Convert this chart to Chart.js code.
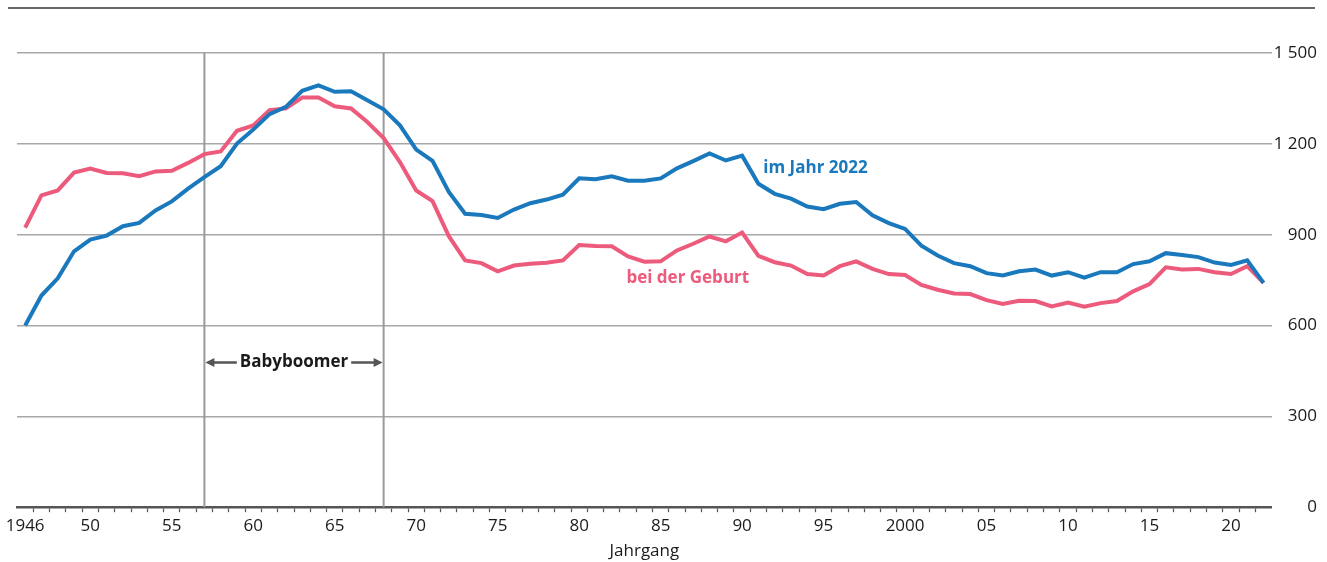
<!DOCTYPE html>
<html>
<head>
<meta charset="utf-8">
<script src="https://cdn.jsdelivr.net/npm/chart.js@4"></script>
<style>
  body { margin: 0; background: #fff; }
  #wrap { position: relative; width: 1327px; height: 562px; }
  #rule { position: absolute; left: 8px; top: 7px; width: 1307px; border-top: 2px solid #666; }
</style>
</head>
<body>
<div id="wrap">
  <div id="rule"></div>
  <canvas id="chart" width="1327" height="562"></canvas>
</div>
<script>
// Jahrgaenge 1946 - 2022
var jahre = [];
for (var j = 1946; j <= 2022; j++) { jahre.push(String(j)); }

// Anzahl in Tausend
var imJahr2022 = [
  600, 699, 756, 845, 884, 897, 928, 939, 980, 1010,
  1052, 1090, 1126, 1201, 1247, 1298, 1322, 1375, 1393, 1372,
  1374, 1344, 1314, 1261, 1181, 1144, 1041, 969, 965, 955,
  983, 1004, 1016, 1032, 1086, 1083, 1093, 1078, 1078, 1086,
  1119, 1143, 1168, 1145, 1161, 1068, 1035, 1019, 993, 984,
  1002, 1008, 964, 938, 919, 864, 831, 806, 796, 773,
  765, 779, 785, 765, 776, 758, 776, 776, 803, 812,
  839, 833, 826, 808, 800, 815, 741
];
var beiGeburt = [
  923, 1030, 1046, 1105, 1118, 1104, 1103, 1093, 1109, 1111,
  1137, 1166, 1175, 1243, 1261, 1311, 1317, 1353, 1353, 1324,
  1317, 1272, 1219, 1140, 1046, 1011, 895, 815, 806, 779,
  798, 804, 807, 815, 866, 863, 862, 828, 811, 812,
  848, 870, 894, 878, 907, 830, 809, 798, 770, 765,
  796, 812, 787, 770, 767, 734, 718, 706, 704, 684,
  671, 682, 681, 663, 676, 662, 674, 681, 713, 737,
  792, 785, 787, 776, 770, 796, 741
];

var tickJahre = ['1946', '1950', '1955', '1960', '1965', '1970', '1975', '1980', '1985', '1990',
                 '1995', '2000', '2005', '2010', '2015', '2020'];
var tickText  = ['1946', '50', '55', '60', '65', '70', '75', '80', '85', '90',
                 '95', '2000', '05', '10', '15', '20'];
var yTicks = [0, 300, 600, 900, 1200, 1500];

var blau = '#1a78bd';
var rosa = '#ec5a7c';
var schrift = '"Open Sans", "Noto Sans", sans-serif';

var anmerkungen = {
  id: 'anmerkungen',
  beforeDatasetsDraw: function(chart) {
    var c = chart.ctx, x = chart.scales.x, y = chart.scales.y;
    var x1 = x.getPixelForValue(jahre.indexOf('1957'));
    var x2 = x.getPixelForValue(jahre.indexOf('1968'));
    var top = y.getPixelForValue(1500), bot = y.getPixelForValue(0);
    c.save();
    c.strokeStyle = '#9a9a9a';
    c.lineWidth = 2;
    c.beginPath();
    c.moveTo(x1, top); c.lineTo(x1, bot);
    c.moveTo(x2, top); c.lineTo(x2, bot);
    c.stroke();

    // Babyboomer Pfeil
    var ym = y.getPixelForValue(478);
    c.font = 'bold 17px ' + schrift;
    c.fillStyle = '#1a1a1a';
    c.textAlign = 'center';
    c.textBaseline = 'middle';
    var mitte = (x1 + x2) / 2;
    var w = c.measureText('Babyboomer').width;
    c.fillText('Babyboomer', mitte, ym);
    c.strokeStyle = '#555';
    c.fillStyle = '#555';
    c.lineWidth = 2.5;
    c.beginPath();
    c.moveTo(x1 + 6, ym); c.lineTo(mitte - w / 2 - 3, ym);
    c.moveTo(mitte + w / 2 + 3, ym); c.lineTo(x2 - 6, ym);
    c.stroke();
    c.beginPath();
    c.moveTo(x1 + 1, ym); c.lineTo(x1 + 10, ym - 4.5); c.lineTo(x1 + 10, ym + 4.5); c.closePath();
    c.moveTo(x2 - 1, ym); c.lineTo(x2 - 10, ym - 4.5); c.lineTo(x2 - 10, ym + 4.5); c.closePath();
    c.fill();
    c.restore();
  },
  afterDatasetsDraw: function(chart) {
    var c = chart.ctx, x = chart.scales.x, y = chart.scales.y;
    c.save();
    c.font = 'bold 17px ' + schrift;
    c.textAlign = 'left';
    c.textBaseline = 'middle';
    c.fillStyle = blau;
    c.fillText('im Jahr 2022', x.getPixelForValue(45.3), y.getPixelForValue(1119));
    c.fillStyle = rosa;
    c.fillText('bei der Geburt', x.getPixelForValue(36.9), y.getPixelForValue(758));
    c.restore();
  }
};

new Chart(document.getElementById('chart'), {
  type: 'line',
  data: {
    labels: jahre,
    datasets: [
      { label: 'im Jahr 2022', data: imJahr2022, borderColor: blau, borderWidth: 4, pointRadius: 0, tension: 0 },
      { label: 'bei der Geburt', data: beiGeburt, borderColor: rosa, borderWidth: 4, pointRadius: 0, tension: 0 }
    ]
  },
  options: {
    responsive: false,
    animation: false,
    layout: { padding: { left: 17, right: 10, top: 53, bottom: 1 } },
    plugins: { legend: { display: false }, tooltip: { enabled: false } },
    scales: {
      x: {
        type: 'category',
        offset: true,
        grid: {
          offset: true,
          drawOnChartArea: false,
          drawTicks: true,
          tickLength: 5,
          tickWidth: 1.2,
          tickColor: function(ctx) {
            if (ctx.type !== 'tick' || ctx.index === 0) return 'transparent';
            return '#555';
          }
        },
        border: { display: true, color: '#555', width: 2.5 },
        ticks: {
          autoSkip: false,
          maxRotation: 0,
          padding: 4,
          color: '#1a1a1a',
          font: { family: schrift, size: 17 },
          callback: function(val, i) {
            var k = tickJahre.indexOf(jahre[i]);
            return k >= 0 ? tickText[k] : '';
          }
        },
        title: {
          display: true,
          text: 'Jahrgang',
          color: '#1a1a1a',
          font: { family: schrift, size: 17 },
          padding: { top: 0, bottom: 0 }
        }
      },
      y: {
        position: 'right',
        min: 0,
        max: 1500,
        afterBuildTicks: function(scale) {
          scale.ticks = yTicks.map(function(v) { return { value: v }; });
        },
        grid: {
          drawTicks: false,
          lineWidth: 1.5,
          color: function(ctx) { return ctx.tick && ctx.tick.value === 0 ? 'transparent' : '#a8a8a8'; }
        },
        border: { display: false },
        ticks: {
          padding: 1,
          crossAlign: 'far',
          color: '#1a1a1a',
          font: { family: schrift, size: 17 },
          callback: function(v) { return String(v).replace(/\B(?=(\d{3})+(?!\d))/g, ' '); }
        }
      }
    }
  },
  plugins: [anmerkungen]
});
</script>
</body>
</html>
